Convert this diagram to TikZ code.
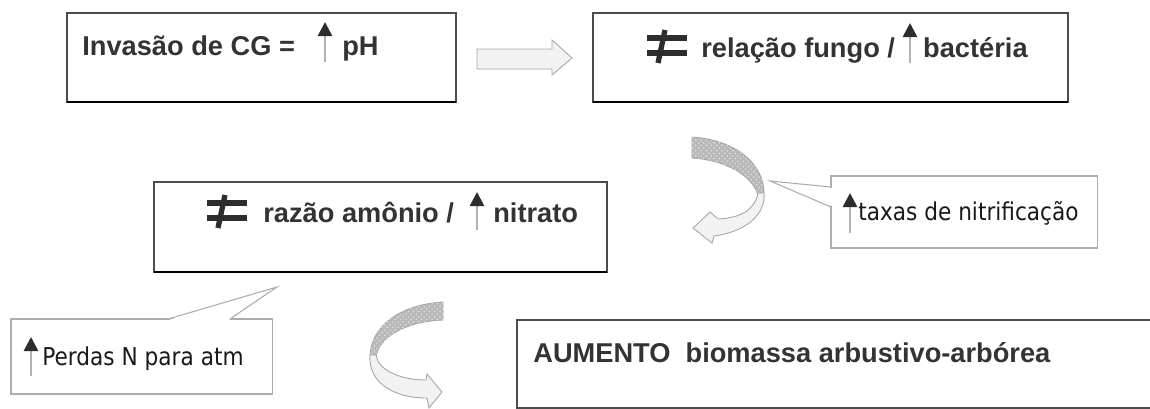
\documentclass[tikz,border=0pt]{standalone}
\usepackage{fontspec}
\setmainfont{Liberation Sans}
\newfontfamily\callfont{DejaVu Sans}[FakeStretch=0.88]
\usetikzlibrary{arrows.meta,patterns}
\newcommand{\neqglyph}[2]{%
  \draw[neqbar] (#1,#2-19) -- ++(40,0) (#1,#2-4) -- ++(40,0);
  \draw[neqbar, line width=3pt] (#1+18,#2-27) -- (#1+11,#2+6);}
\begin{document}
\begin{tikzpicture}[x=0.02cm,y=-0.02cm,
  box/.style={draw=gray!60!black, line width=1.1pt, inner sep=0pt, outer sep=0pt, anchor=north west},
  callbox/.style={draw=gray!65, line width=0.6pt, fill=white, inner sep=0pt, outer sep=0pt, anchor=north west},
  boldtxt/.style={font=\fontsize{15.5}{18}\selectfont\bfseries, text=gray!40!black, inner sep=0pt, anchor=base west},
  calltxt/.style={font=\callfont\fontsize{14}{16}\selectfont, text=gray!20!black, inner sep=0pt, anchor=base west},
  uparr/.style={draw=gray!60, line width=1.5pt, -{Triangle[length=8pt,width=8pt,color=gray!35!black]}},
  neqbar/.style={draw=gray!35!black, line width=3.6pt},
  ribdark/.style={draw=gray!70, line width=0.5pt, fill=gray!55, postaction={pattern=crosshatch dots, pattern color=gray!25}},
  riblight/.style={draw=gray!70, line width=0.5pt, fill=gray!10},
  pointer/.style={draw=gray!65, line width=0.6pt, fill=white}]
\useasboundingbox (0,0) rectangle (1150,409);

% main boxes
\node[box, minimum width=7.78cm, minimum height=1.78cm] (b1) at (67,13) {};
\draw[black, line width=1.2pt] (b1.south west) -- (b1.south east);
\node[box, minimum width=9.5cm, minimum height=1.78cm] (b2) at (593,13) {};
\draw[black, line width=1.2pt] (b2.south west) -- (b2.south east);
\node[box, minimum width=9.06cm, minimum height=1.8cm] (b3) at (154,182) {};
\draw[black, line width=1.2pt] (b3.south west) -- (b3.south east);
\node[box, minimum width=12.96cm, minimum height=1.76cm] (b4) at (517,320) {};

% callouts
\node[callbox, minimum width=5.34cm, minimum height=1.44cm] (c1) at (831,176) {};
\coordinate (tip1) at (770,181);
\fill[white] (832,188) -- (tip1) -- (832,206) -- cycle;
\draw[pointer, fill=none] (c1.west |- 0,187) -- (tip1) -- (c1.west |- 0,207);
\node[callbox, minimum width=5.24cm, minimum height=1.5cm] (c2) at (11,319) {};
\coordinate (tip2) at (277,287);
\fill[white] (169,320) -- (tip2) -- (229,320) -- cycle;
\draw[pointer, fill=none] (168,319) -- (tip2) -- (230,319);

% block arrow between first boxes
\draw[riblight] (477,49) -- (552,49) -- (552,40) -- (572,58) -- (552,75) -- (552,69) -- (477,69) -- cycle;

% curved ribbon arrow 1
\draw[ribdark] (692,137) .. controls (737,140) and (765,165) .. (764,195) -- (758,195) .. controls (752,175) and (725,160) .. (692,158) -- cycle;
\draw[riblight] (758,193) .. controls (755,210) and (740,218) .. (718,219) -- (710,212) -- (693,228) -- (712,243) -- (714,236) .. controls (745,232) and (766,215) .. (764,193) -- cycle;

% curved ribbon arrow 2
\draw[ribdark] (443,302) .. controls (395,305) and (370,330) .. (370,357) -- (376,357) .. controls (378,340) and (400,322) .. (443,320) -- cycle;
\draw[riblight] (376,355) .. controls (378,370) and (400,380) .. (426,380) -- (427,374) -- (442,392) -- (429,408) -- (427,398) .. controls (390,398) and (368,380) .. (370,355) -- cycle;

% texts
\node[boldtxt] (t1) at (82,55) {Invasão de CG =};
\draw[uparr] (325,62) -- (325,22);
\node[boldtxt] (t1b) at (342,55) {pH};

\neqglyph{647}{57}
\node[boldtxt] (t2) at (701,57) {relação fungo /};
\draw[uparr] (910,63) -- (910,23);
\node[boldtxt, anchor=base east] (t2b) at (1028,57) {bactéria};

\neqglyph{207}{222}
\node[boldtxt] (t3) at (263,222) {razão amônio /};
\draw[uparr] (477,230) -- (477,192);
\node[boldtxt] (t3b) at (493,222) {nitrato};

\draw[uparr] (850,233) -- (850,193);
\node[calltxt] (c1t) at (858,220) {taxas de nitrificação};

\draw[uparr] (31,376) -- (31,337);
\node[calltxt] (c2t) at (42,365) {Perdas N para atm};

\node[boldtxt] (t4) at (533,362) {AUMENTO\ \ biomassa arbustivo-arbórea};
\end{tikzpicture}
\end{document}
